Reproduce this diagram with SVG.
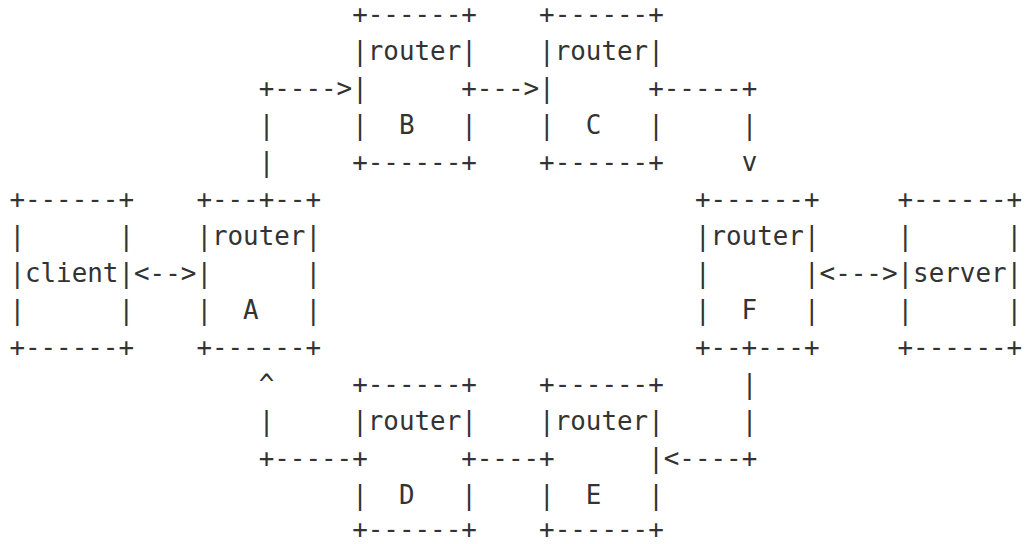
<svg xmlns="http://www.w3.org/2000/svg" width="1025" height="544" viewBox="0 0 1025 544">
<style>
text{font-family:"DejaVu Sans Mono","Liberation Mono",monospace;font-size:25.88px;fill:#333333;white-space:pre;}
</style>
<rect width="1025" height="544" fill="#ffffff"/>
<g id="client">
<text xml:space="preserve" x="9.4" y="207.5">+------+</text>
<text xml:space="preserve" x="9.4" y="244.5">|      |</text>
<text xml:space="preserve" x="9.4" y="281.5">|client|</text>
<text xml:space="preserve" x="9.4" y="318.5">|      |</text>
<text xml:space="preserve" x="9.4" y="355.5">+------+</text>
</g>
<g id="routerA">
<text xml:space="preserve" x="196.4" y="207.5">+---+--+</text>
<text xml:space="preserve" x="196.4" y="244.5">|router|</text>
<text xml:space="preserve" x="196.4" y="281.5">|      |</text>
<text xml:space="preserve" x="196.4" y="318.5">|  A   |</text>
<text xml:space="preserve" x="196.4" y="355.5">+------+</text>
</g>
<g id="routerB">
<text xml:space="preserve" x="352.2" y="22.5">+------+</text>
<text xml:space="preserve" x="352.2" y="59.5">|router|</text>
<text xml:space="preserve" x="352.2" y="96.5">|      +</text>
<text xml:space="preserve" x="352.2" y="133.5">|  B   |</text>
<text xml:space="preserve" x="352.2" y="170.5">+------+</text>
</g>
<g id="routerC">
<text xml:space="preserve" x="539.1" y="22.5">+------+</text>
<text xml:space="preserve" x="539.1" y="59.5">|router|</text>
<text xml:space="preserve" x="539.1" y="96.5">|      +</text>
<text xml:space="preserve" x="539.1" y="133.5">|  C   |</text>
<text xml:space="preserve" x="539.1" y="170.5">+------+</text>
</g>
<g id="routerF">
<text xml:space="preserve" x="694.9" y="207.5">+------+</text>
<text xml:space="preserve" x="694.9" y="244.5">|router|</text>
<text xml:space="preserve" x="694.9" y="281.5">|      |</text>
<text xml:space="preserve" x="694.9" y="318.5">|  F   |</text>
<text xml:space="preserve" x="694.9" y="355.5">+--+---+</text>
</g>
<g id="server">
<text xml:space="preserve" x="897.5" y="207.5">+------+</text>
<text xml:space="preserve" x="897.5" y="244.5">|      |</text>
<text xml:space="preserve" x="897.5" y="281.5">|server|</text>
<text xml:space="preserve" x="897.5" y="318.5">|      |</text>
<text xml:space="preserve" x="897.5" y="355.5">+------+</text>
</g>
<g id="routerD">
<text xml:space="preserve" x="352.2" y="392.5">+------+</text>
<text xml:space="preserve" x="352.2" y="429.5">|router|</text>
<text xml:space="preserve" x="352.2" y="466.5">+      +</text>
<text xml:space="preserve" x="352.2" y="503.5">|  D   |</text>
<text xml:space="preserve" x="352.2" y="537.5">+------+</text>
</g>
<g id="routerE">
<text xml:space="preserve" x="539.1" y="392.5">+------+</text>
<text xml:space="preserve" x="539.1" y="429.5">|router|</text>
<text xml:space="preserve" x="539.1" y="466.5">+      |</text>
<text xml:space="preserve" x="539.1" y="503.5">|  E   |</text>
<text xml:space="preserve" x="539.1" y="537.5">+------+</text>
</g>
<g id="connectors">
<text x="134.0" y="281.5">&lt;--&gt;</text>
<text x="258.7" y="96.5">+----&gt;</text>
<text x="258.7" y="133.5">|</text>
<text x="258.7" y="170.5">|</text>
<text x="476.8" y="96.5">---&gt;</text>
<text x="663.8" y="96.5">-----+</text>
<text x="741.7" y="133.5">|</text>
<text x="741.7" y="170.5">v</text>
<text x="819.6" y="281.5">&lt;---&gt;</text>
<text x="741.7" y="392.5">|</text>
<text x="741.7" y="429.5">|</text>
<text x="663.8" y="466.5">&lt;----+</text>
<text x="476.8" y="466.5">----</text>
<text x="258.7" y="466.5">+-----</text>
<text x="258.7" y="429.5">|</text>
<text x="258.7" y="392.5">^</text>
</g>
</svg>
